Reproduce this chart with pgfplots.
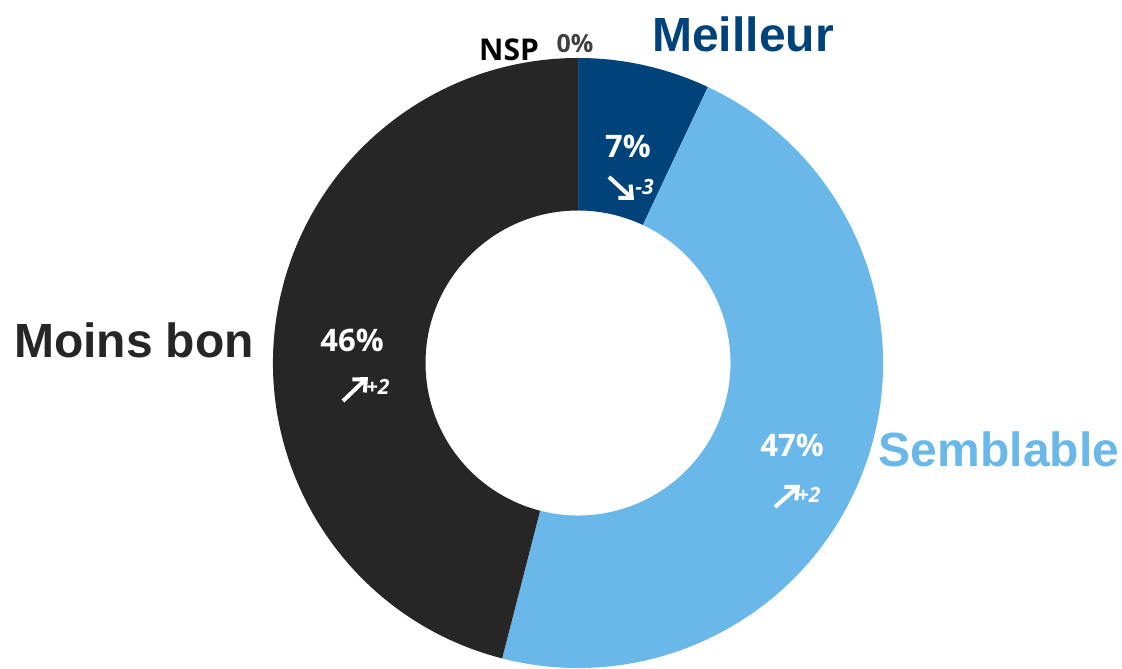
\documentclass[border=0pt]{standalone}
\usepackage{fontspec}
\setmainfont{Liberation Sans}
\newfontfamily\seg{Open Sans}
\usepackage{pgfplots}
\usepackage{pgfplotstable}
\pgfplotsset{compat=1.18}
\usetikzlibrary{arrows.meta}
\definecolor{cMeilleur}{HTML}{00437B}
\definecolor{cSemblable}{HTML}{6AB8E9}
\definecolor{cMoins}{HTML}{262626}
\definecolor{cNSP}{HTML}{A6A6A6}
\definecolor{cZero}{HTML}{404040}

% share of answers, clockwise from the top
\pgfplotstableread{
name      value colour
Meilleur  7     cMeilleur
Semblable 47    cSemblable
Moinsbon  46    cMoins
NSP       0     cNSP
}\piedata

\newcommand\catfont{\bfseries\fontsize{24}{28}\selectfont}
\newcommand\pctfont{\seg\bfseries\fontsize{15.5}{18}\selectfont}
\newcommand\evofont{\seg\bfseries\itshape\fontsize{10.5}{12}\selectfont}

\begin{document}
\begin{tikzpicture}
  \begin{axis}[
      hide axis, scale only axis,
      width=561pt, height=334pt,
      xmin=0, xmax=1122, ymin=0, ymax=668,
      clip=false,
    ]
    \pgfplotstablegetrowsof{\piedata}
    \pgfmathtruncatemacro\nrows{\pgfplotsretval-1}
    \def\cum{0}
    \pgfplotsforeachungrouped \i in {0,...,\nrows}{%
      \pgfplotstablegetelem{\i}{value}\of\piedata \let\v\pgfplotsretval
      \pgfplotstablegetelem{\i}{colour}\of\piedata \let\c\pgfplotsretval
      \pgfmathsetmacro\aone{90-3.6*\cum}
      \pgfmathsetmacro\atwo{90-3.6*(\cum+\v)}
      \pgfmathsetmacro\cum{\cum+\v}
      \edef\piewedge{\noexpand\fill[\c]
        ([shift={(\aone:152.5pt)}]axis cs:578,305)
        arc[start angle=\aone, end angle=\atwo, radius=152.5pt]
        -- ([shift={(\atwo:76.25pt)}]axis cs:578,305)
        arc[start angle=\atwo, end angle=\aone, radius=76.25pt] -- cycle;}%
      \piewedge
    }

    % category labels
    \node[font=\catfont, text=cMeilleur, inner sep=0pt] at (axis cs:743,634) {Meilleur};
    \node[font=\catfont, text=cSemblable, inner sep=0pt] at (axis cs:999,219) {Semblable};
    \node[font=\catfont, text=cMoins, inner sep=0pt] at (axis cs:134,328) {Moins bon};
    \node[font=\seg\bfseries\fontsize{15}{18}\selectfont, text=black, inner sep=0pt] at (axis cs:509,618) {NSP};
    \node[font=\seg\bfseries\fontsize{12.5}{15}\selectfont, text=cZero, inner sep=0pt] at (axis cs:575,624) {0\%};

    % values
    \node[font=\pctfont, text=white] at (axis cs:628,522) {7\%};
    \node[font=\pctfont, text=white] at (axis cs:352,328) {46\%};
    \node[font=\pctfont, text=white] at (axis cs:792,223) {47\%};

    % change since previous wave
    \draw[white, line width=2pt, -{Straight Barb[length=5pt, width=9pt]}]
      (axis cs:609,491) -- (axis cs:634,468);
    \node[font=\evofont, text=white, anchor=west, inner sep=0pt] at (axis cs:635,481) {-3};
    \draw[white, line width=2pt, -{Straight Barb[length=5pt, width=9pt]}]
      (axis cs:343,267) -- (axis cs:368,291);
    \node[font=\evofont, text=white, anchor=west, inner sep=0pt] at (axis cs:366,281) {+2};
    \draw[white, line width=2pt, -{Straight Barb[length=5pt, width=9pt]}]
      (axis cs:775,161) -- (axis cs:800,183);
    \node[font=\evofont, text=white, anchor=west, inner sep=0pt] at (axis cs:797,173) {+2};
  \end{axis}
  \pgfresetboundingbox
  \path (0,0) rectangle (561pt,334pt);
\end{tikzpicture}
\end{document}
